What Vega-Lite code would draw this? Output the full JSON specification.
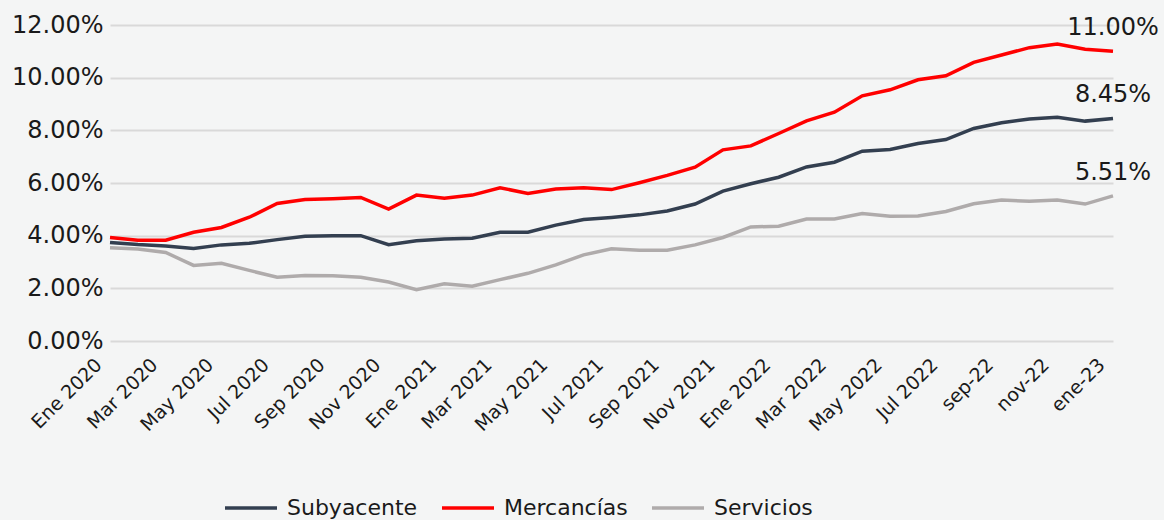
{
"$schema": "https://vega.github.io/schema/vega-lite/v6.json",
"width": 1003,
"height": 316,
"autosize": "none",
"padding": {"left": 110, "top": 25, "right": 51, "bottom": 179},
"background": "#f4f5f5",
"config": {"font": "DejaVu Sans", "view": {"stroke": null}},
"data": {"values": [
{"mes":"Ene 2020","serie":"Subyacente","valor":0.0374},{"mes":"Feb 2020","serie":"Subyacente","valor":0.0366},{"mes":"Mar 2020","serie":"Subyacente","valor":0.0361},{"mes":"Abr 2020","serie":"Subyacente","valor":0.0351},{"mes":"May 2020","serie":"Subyacente","valor":0.0365},{"mes":"Jun 2020","serie":"Subyacente","valor":0.0371},{"mes":"Jul 2020","serie":"Subyacente","valor":0.0385},{"mes":"Ago 2020","serie":"Subyacente","valor":0.0398},{"mes":"Sep 2020","serie":"Subyacente","valor":0.0400},{"mes":"Oct 2020","serie":"Subyacente","valor":0.0400},{"mes":"Nov 2020","serie":"Subyacente","valor":0.0366},{"mes":"Dic 2020","serie":"Subyacente","valor":0.0381},
{"mes":"Ene 2021","serie":"Subyacente","valor":0.0387},{"mes":"Feb 2021","serie":"Subyacente","valor":0.0390},{"mes":"Mar 2021","serie":"Subyacente","valor":0.0413},{"mes":"Abr 2021","serie":"Subyacente","valor":0.0413},{"mes":"May 2021","serie":"Subyacente","valor":0.0440},{"mes":"Jun 2021","serie":"Subyacente","valor":0.0461},{"mes":"Jul 2021","serie":"Subyacente","valor":0.0469},{"mes":"Ago 2021","serie":"Subyacente","valor":0.0479},{"mes":"Sep 2021","serie":"Subyacente","valor":0.0494},{"mes":"Oct 2021","serie":"Subyacente","valor":0.0520},{"mes":"Nov 2021","serie":"Subyacente","valor":0.0569},{"mes":"Dic 2021","serie":"Subyacente","valor":0.0597},
{"mes":"Ene 2022","serie":"Subyacente","valor":0.0622},{"mes":"Feb 2022","serie":"Subyacente","valor":0.0661},{"mes":"Mar 2022","serie":"Subyacente","valor":0.0679},{"mes":"Abr 2022","serie":"Subyacente","valor":0.0721},{"mes":"May 2022","serie":"Subyacente","valor":0.0727},{"mes":"Jun 2022","serie":"Subyacente","valor":0.0750},{"mes":"Jul 2022","serie":"Subyacente","valor":0.0765},{"mes":"ago-22","serie":"Subyacente","valor":0.0807},{"mes":"sep-22","serie":"Subyacente","valor":0.0829},{"mes":"oct-22","serie":"Subyacente","valor":0.0843},{"mes":"nov-22","serie":"Subyacente","valor":0.0850},{"mes":"dic-22","serie":"Subyacente","valor":0.0835},{"mes":"ene-23","serie":"Subyacente","valor":0.0845},
{"mes":"Ene 2020","serie":"Mercancías","valor":0.0393},{"mes":"Feb 2020","serie":"Mercancías","valor":0.0383},{"mes":"Mar 2020","serie":"Mercancías","valor":0.0383},{"mes":"Abr 2020","serie":"Mercancías","valor":0.0413},{"mes":"May 2020","serie":"Mercancías","valor":0.0431},{"mes":"Jun 2020","serie":"Mercancías","valor":0.0470},{"mes":"Jul 2020","serie":"Mercancías","valor":0.0522},{"mes":"Ago 2020","serie":"Mercancías","valor":0.0537},{"mes":"Sep 2020","serie":"Mercancías","valor":0.0540},{"mes":"Oct 2020","serie":"Mercancías","valor":0.0545},{"mes":"Nov 2020","serie":"Mercancías","valor":0.0501},{"mes":"Dic 2020","serie":"Mercancías","valor":0.0554},
{"mes":"Ene 2021","serie":"Mercancías","valor":0.0542},{"mes":"Feb 2021","serie":"Mercancías","valor":0.0554},{"mes":"Mar 2021","serie":"Mercancías","valor":0.0582},{"mes":"Abr 2021","serie":"Mercancías","valor":0.0560},{"mes":"May 2021","serie":"Mercancías","valor":0.0577},{"mes":"Jun 2021","serie":"Mercancías","valor":0.0582},{"mes":"Jul 2021","serie":"Mercancías","valor":0.0575},{"mes":"Ago 2021","serie":"Mercancías","valor":0.0601},{"mes":"Sep 2021","serie":"Mercancías","valor":0.0629},{"mes":"Oct 2021","serie":"Mercancías","valor":0.0660},{"mes":"Nov 2021","serie":"Mercancías","valor":0.0726},{"mes":"Dic 2021","serie":"Mercancías","valor":0.0741},
{"mes":"Ene 2022","serie":"Mercancías","valor":0.0788},{"mes":"Feb 2022","serie":"Mercancías","valor":0.0836},{"mes":"Mar 2022","serie":"Mercancías","valor":0.0869},{"mes":"Abr 2022","serie":"Mercancías","valor":0.0931},{"mes":"May 2022","serie":"Mercancías","valor":0.0954},{"mes":"Jun 2022","serie":"Mercancías","valor":0.0992},{"mes":"Jul 2022","serie":"Mercancías","valor":0.1007},{"mes":"ago-22","serie":"Mercancías","valor":0.1058},{"mes":"sep-22","serie":"Mercancías","valor":0.1086},{"mes":"oct-22","serie":"Mercancías","valor":0.1114},{"mes":"nov-22","serie":"Mercancías","valor":0.1128},{"mes":"dic-22","serie":"Mercancías","valor":0.1108},{"mes":"ene-23","serie":"Mercancías","valor":0.1100},
{"mes":"Ene 2020","serie":"Servicios","valor":0.0354},{"mes":"Feb 2020","serie":"Servicios","valor":0.0349},{"mes":"Mar 2020","serie":"Servicios","valor":0.0336},{"mes":"Abr 2020","serie":"Servicios","valor":0.0287},{"mes":"May 2020","serie":"Servicios","valor":0.0295},{"mes":"Jun 2020","serie":"Servicios","valor":0.0268},{"mes":"Jul 2020","serie":"Servicios","valor":0.0242},{"mes":"Ago 2020","serie":"Servicios","valor":0.0249},{"mes":"Sep 2020","serie":"Servicios","valor":0.0248},{"mes":"Oct 2020","serie":"Servicios","valor":0.0242},{"mes":"Nov 2020","serie":"Servicios","valor":0.0224},{"mes":"Dic 2020","serie":"Servicios","valor":0.0195},
{"mes":"Ene 2021","serie":"Servicios","valor":0.0217},{"mes":"Feb 2021","serie":"Servicios","valor":0.0208},{"mes":"Mar 2021","serie":"Servicios","valor":0.0233},{"mes":"Abr 2021","serie":"Servicios","valor":0.0257},{"mes":"May 2021","serie":"Servicios","valor":0.0289},{"mes":"Jun 2021","serie":"Servicios","valor":0.0327},{"mes":"Jul 2021","serie":"Servicios","valor":0.0350},{"mes":"Ago 2021","serie":"Servicios","valor":0.0345},{"mes":"Sep 2021","serie":"Servicios","valor":0.0345},{"mes":"Oct 2021","serie":"Servicios","valor":0.0365},{"mes":"Nov 2021","serie":"Servicios","valor":0.0393},{"mes":"Dic 2021","serie":"Servicios","valor":0.0433},
{"mes":"Ene 2022","serie":"Servicios","valor":0.0436},{"mes":"Feb 2022","serie":"Servicios","valor":0.0463},{"mes":"Mar 2022","serie":"Servicios","valor":0.0463},{"mes":"Abr 2022","serie":"Servicios","valor":0.0484},{"mes":"May 2022","serie":"Servicios","valor":0.0474},{"mes":"Jun 2022","serie":"Servicios","valor":0.0475},{"mes":"Jul 2022","serie":"Servicios","valor":0.0492},{"mes":"ago-22","serie":"Servicios","valor":0.0521},{"mes":"sep-22","serie":"Servicios","valor":0.0535},{"mes":"oct-22","serie":"Servicios","valor":0.0531},{"mes":"nov-22","serie":"Servicios","valor":0.0535},{"mes":"dic-22","serie":"Servicios","valor":0.0520},{"mes":"ene-23","serie":"Servicios","valor":0.0551}
]},
"layer": [
{
"mark": {"type": "line", "strokeWidth": 3.5},
"encoding": {
"x": {"field": "mes", "type": "ordinal",
 "scale": {"type": "point", "padding": 0, "domain": ["Ene 2020","Feb 2020","Mar 2020","Abr 2020","May 2020","Jun 2020","Jul 2020","Ago 2020","Sep 2020","Oct 2020","Nov 2020","Dic 2020","Ene 2021","Feb 2021","Mar 2021","Abr 2021","May 2021","Jun 2021","Jul 2021","Ago 2021","Sep 2021","Oct 2021","Nov 2021","Dic 2021","Ene 2022","Feb 2022","Mar 2022","Abr 2022","May 2022","Jun 2022","Jul 2022","ago-22","sep-22","oct-22","nov-22","dic-22","ene-23"]},
 "axis": {"values": ["Ene 2020","Mar 2020","May 2020","Jul 2020","Sep 2020","Nov 2020","Ene 2021","Mar 2021","May 2021","Jul 2021","Sep 2021","Nov 2021","Ene 2022","Mar 2022","May 2022","Jul 2022","sep-22","nov-22","ene-23"],
  "title": null, "labelAngle": -45, "labelFontSize": 19, "labelColor": "#1a1a1a", "domain": false, "ticks": false, "grid": false, "labelPadding": 14, "labelOffset": -18}},
"y": {"field": "valor", "type": "quantitative",
 "scale": {"domain": [0, 0.12]},
 "axis": {"values": [0,0.02,0.04,0.06,0.08,0.10,0.12], "format": ".2%", "title": null, "labelFontSize": 24, "labelColor": "#1a1a1a", "domain": false, "ticks": false, "grid": true, "gridColor": "#d9d9d9", "gridWidth": 2, "labelPadding": 7}},
"color": {"field": "serie", "type": "nominal",
 "scale": {"domain": ["Subyacente","Mercancías","Servicios"], "range": ["#333f50","#ff0000","#afabab"]},
 "legend": {"orient": "none", "legendX": 113, "legendY": 455, "direction": "horizontal", "title": null, "symbolType": "stroke", "symbolSize": 2704, "symbolStrokeWidth": 3.5, "labelFontSize": 22, "labelColor": "#1a1a1a", "labelOffset": 8, "columnPadding": 17}}
}
},
{
"transform": [{"filter": "datum.mes == 'ene-23'"}],
"mark": {"type": "text", "fontSize": 24, "dy": -23, "color": "#1a1a1a", "align": "center", "baseline": "middle"},
"encoding": {
"x": {"field": "mes", "type": "ordinal"},
"y": {"field": "valor", "type": "quantitative"},
"text": {"field": "valor", "type": "quantitative", "format": ".2%"}
}
}
]
}
